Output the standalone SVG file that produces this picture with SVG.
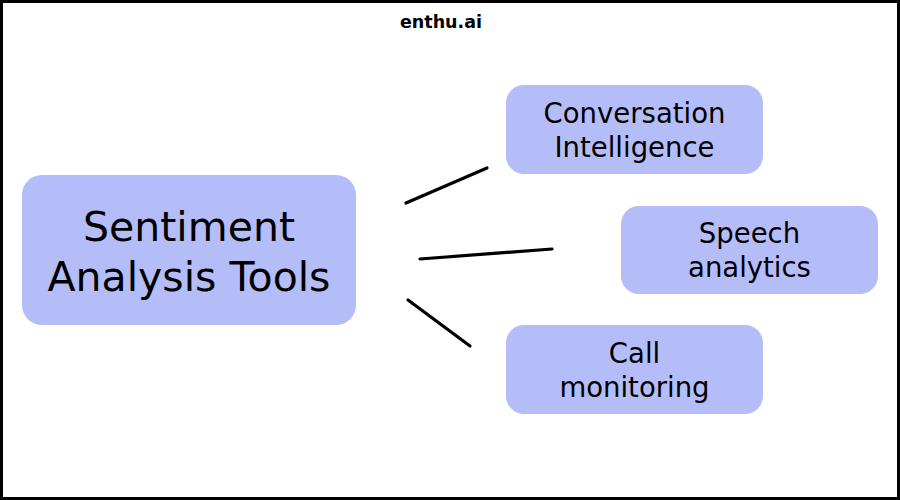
<svg xmlns="http://www.w3.org/2000/svg" width="900" height="500" viewBox="0 0 900 500">
<style>
.node{fill:#b5bdf9}
.t{font-family:"DejaVu Sans","Liberation Sans",sans-serif;fill:#000;text-anchor:middle}
.big{font-size:41px}
.mid{font-size:27.5px}
.conn line{stroke:#000;stroke-width:3.2;stroke-linecap:round}
</style>
<rect x="1.5" y="1.5" width="897" height="497" fill="#fff" stroke="#000" stroke-width="3"/>
<text x="441" y="28" class="t" font-weight="bold" font-size="17.5">enthu.ai</text>
<g class="conn">
<line x1="406" y1="203" x2="487" y2="168"/>
<line x1="420" y1="259" x2="552" y2="249"/>
<line x1="408" y1="300" x2="470" y2="346"/>
</g>
<g id="sentiment">
<rect class="node" x="22" y="175" width="334" height="150" rx="20"/>
<text class="t big" x="189" y="241">Sentiment</text>
<text class="t big" x="189" y="291">Analysis Tools</text>
</g>
<g id="conversation">
<rect class="node" x="506" y="85" width="257" height="89" rx="18"/>
<text class="t mid" x="634.5" y="123">Conversation</text>
<text class="t mid" x="634.5" y="157">Intelligence</text>
</g>
<g id="speech">
<rect class="node" x="621" y="206" width="257" height="88" rx="18"/>
<text class="t mid" x="749.5" y="243">Speech</text>
<text class="t mid" x="749.5" y="277">analytics</text>
</g>
<g id="call">
<rect class="node" x="506" y="325" width="257" height="89" rx="18"/>
<text class="t mid" x="634.5" y="363">Call</text>
<text class="t mid" x="634.5" y="397">monitoring</text>
</g>
</svg>
